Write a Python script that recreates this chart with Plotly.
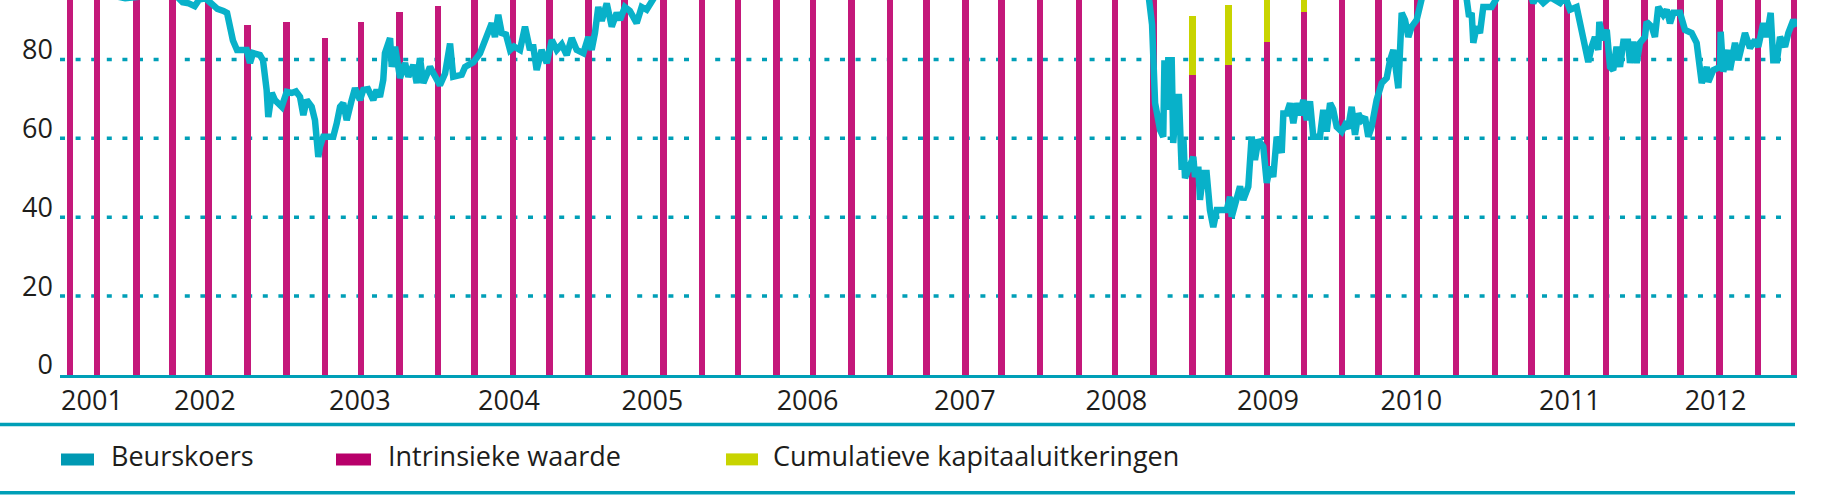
import plotly.graph_objects as go

# ---------------- data ----------------
# quarterly report dates (decimal years)
bar_dates = [2001.085, 2001.265, 2001.526, 2001.762, 2002.0, 2002.258, 2002.516, 2002.772,
             2003.011, 2003.265, 2003.52, 2003.762, 2004.018, 2004.259, 2004.516, 2004.754,
             2005.011, 2005.267, 2005.506, 2005.762, 2006.002, 2006.257, 2006.513, 2006.754,
             2007.011, 2007.251, 2007.504, 2007.761, 2008.002, 2008.256, 2008.512, 2008.751,
             2009.008, 2009.25, 2009.504, 2009.743, 2010.0, 2010.257, 2010.514, 2010.756,
             2010.992, 2011.249, 2011.506, 2011.742, 2012.0, 2012.256, 2012.498]

# Intrinsieke waarde
intrinsic = [126, 120, 112, 106, 101, 88.8, 89.5, 85.4,
             89.5, 92.0, 93.6, 99, 102, 104, 106, 109,
             113, 117, 122, 128, 133, 136, 134, 140,
             146, 150, 152, 148, 138, 118, 76.1, 78.6,
             84.5, 92.0, 100, 106, 112, 115, 113, 117,
             120, 122, 118, 110, 112, 115, 117]

# Cumulatieve kapitaaluitkeringen
distributions = [0, 0, 0, 0, 0, 0, 0, 0,
                 0, 0, 0, 0, 0, 0, 0, 0,
                 0, 0, 0, 0, 0, 0, 0, 0,
                 0, 0, 0, 0, 0, 0, 14.9, 15.2,
                 15.2, 15.2, 15.2, 15.2, 16.8, 16.8, 16.8, 16.8,
                 18.3, 18.3, 18.3, 18.3, 19.8, 19.8, 19.8]

# Beurskoers (share price)
price_dates = [
    2001.02, 2001.10, 2001.18, 2001.26, 2001.33, 2001.39, 2001.45, 2001.52, 2001.57, 2001.62,
    2001.68, 2001.74, 2001.80, 2001.83, 2001.87, 2001.91, 2001.94, 2001.98, 2002.02, 2002.06,
    2002.10, 2002.124, 2002.163, 2002.19, 2002.254, 2002.276, 2002.296, 2002.342, 2002.362, 2002.386,
    2002.397, 2002.42, 2002.441, 2002.486, 2002.519, 2002.552, 2002.58, 2002.607, 2002.629, 2002.651,
    2002.684, 2002.706, 2002.728, 2002.739, 2002.761, 2002.827, 2002.85, 2002.872, 2002.893, 2002.916,
    2002.949, 2002.971, 2003.004, 2003.026, 2003.057, 2003.092, 2003.114, 2003.136, 2003.158, 2003.169,
    2003.203, 2003.214, 2003.236, 2003.269, 2003.302, 2003.324, 2003.357, 2003.379, 2003.401, 2003.423,
    2003.467, 2003.533, 2003.567, 2003.6, 2003.621, 2003.677, 2003.699, 2003.754, 2003.798, 2003.843,
    2003.876, 2003.897, 2003.919, 2003.942, 2003.97, 2003.997, 2004.023, 2004.063, 2004.096, 2004.129,
    2004.149, 2004.173, 2004.206, 2004.24, 2004.273, 2004.306, 2004.339, 2004.372, 2004.405, 2004.438,
    2004.482, 2004.515, 2004.537, 2004.559, 2004.581, 2004.604, 2004.637, 2004.67, 2004.703, 2004.725,
    2004.757, 2004.79, 2004.835, 2004.868, 2004.901, 2004.945, 2004.98, 2005.05, 2005.15, 2005.25,
    2005.35, 2005.45, 2005.55, 2005.65, 2005.75, 2005.85, 2005.95, 2006.05, 2006.15, 2006.25,
    2006.35, 2006.45, 2006.55, 2006.65, 2006.75, 2006.85, 2006.95, 2007.05, 2007.15, 2007.25,
    2007.35, 2007.45, 2007.55, 2007.65, 2007.75, 2007.85, 2007.95, 2008.05, 2008.12, 2008.18,
    2008.21, 2008.221, 2008.246, 2008.266, 2008.299, 2008.32, 2008.328, 2008.342, 2008.353, 2008.376,
    2008.386, 2008.409, 2008.424, 2008.442, 2008.454, 2008.464, 2008.497, 2008.519, 2008.53, 2008.552,
    2008.563, 2008.585, 2008.607, 2008.629, 2008.651, 2008.674, 2008.74, 2008.762, 2008.773, 2008.806,
    2008.828, 2008.85, 2008.883, 2008.905, 2008.927, 2008.949, 2008.982, 2009.005, 2009.027, 2009.048,
    2009.071, 2009.104, 2009.115, 2009.137, 2009.159, 2009.181, 2009.203, 2009.225, 2009.247, 2009.27,
    2009.291, 2009.313, 2009.357, 2009.379, 2009.402, 2009.424, 2009.444, 2009.468, 2009.501, 2009.523,
    2009.543, 2009.567, 2009.589, 2009.611, 2009.633, 2009.655, 2009.677, 2009.699, 2009.732, 2009.766,
    2009.799, 2009.821, 2009.843, 2009.876, 2009.887, 2009.898, 2009.92, 2009.942, 2009.964, 2009.997,
    2010.03, 2010.06, 2010.12, 2010.18, 2010.24, 2010.29, 2010.328, 2010.344, 2010.361, 2010.372,
    2010.394, 2010.416, 2010.438, 2010.493, 2010.527, 2010.57, 2010.63, 2010.69, 2010.74, 2010.769,
    2010.794, 2010.835, 2010.88, 2010.946, 2010.979, 2011.012, 2011.056, 2011.078, 2011.111, 2011.133,
    2011.155, 2011.177, 2011.199, 2011.206, 2011.232, 2011.255, 2011.277, 2011.298, 2011.32, 2011.343,
    2011.365, 2011.396, 2011.409, 2011.431, 2011.453, 2011.475, 2011.508, 2011.519, 2011.553, 2011.574,
    2011.596, 2011.629, 2011.652, 2011.674, 2011.696, 2011.74, 2011.773, 2011.817, 2011.85, 2011.872,
    2011.884, 2011.917, 2011.927, 2011.96, 2012.005, 2012.009, 2012.026, 2012.06, 2012.071, 2012.104,
    2012.126, 2012.17, 2012.203, 2012.236, 2012.258, 2012.291, 2012.314, 2012.34, 2012.357, 2012.382,
    2012.402, 2012.435, 2012.457, 2012.49, 2012.512]

price_values = [
    112, 108, 104, 101, 98, 96, 95.5, 95.6, 96, 98,
    101, 98, 96, 94.5, 94.2, 93.5, 95.2, 95.5, 94.2, 92.8,
    92.3, 91.8, 84.8, 82.4, 82.4, 79.1, 81.6, 81.1, 79.8, 72.3,
    65.4, 71.5, 69.7, 68, 71.8, 71.5, 71.9, 70.5, 65.9, 69.7,
    68, 64.6, 55.3, 57.9, 60.4, 60.4, 63.8, 68, 68.9, 64.6,
    69.7, 72.7, 69.7, 72.3, 72.5, 69.7, 72.3, 70.5, 74.8, 81.6,
    85.4, 78.1, 83.2, 75.3, 79.1, 75.6, 78.6, 74, 80.3, 74,
    78.1, 73.5, 76.4, 84, 75.6, 76.1, 78.1, 79.3, 81.5, 85.7,
    89.2, 85.7, 91.3, 86.7, 86.3, 82.4, 83.3, 82.4, 88.3, 82.4,
    83.8, 77.3, 82.4, 79.1, 84.9, 82.4, 83.8, 81.1, 85.4, 82.4,
    81.6, 85.7, 82.4, 86.7, 93.3, 89.8, 94.2, 88.3, 91.8, 90,
    93.3, 92.3, 89.2, 93.3, 92.6, 95.3, 98.5, 101, 104, 103,
    107, 110, 108, 113, 118, 121, 126, 130, 134, 129,
    124, 122, 127, 131, 135, 139, 142, 146, 150, 153,
    155, 151, 146, 142, 138, 135, 128, 122, 118, 110,
    101, 96, 88.8, 68.9, 62.1, 60.4, 79.8, 67.2, 79.8, 79.8,
    58.8, 70.5, 70.5, 52, 59.6, 49.9, 52.8, 55.3, 50.2, 52.8,
    44.4, 51.2, 51.2, 41.8, 37.5, 41.8, 41.8, 45.2, 40.1, 44.4,
    47.8, 44.4, 47.8, 60.4, 54.5, 59.6, 57.9, 48.7, 52.8, 50.2,
    60.4, 56.3, 66.3, 66.3, 68.9, 63.8, 68.9, 65.9, 69.7, 64.6,
    69.4, 60.4, 60.4, 67.2, 61.7, 68.9, 67.4, 62.9, 61.7, 63.4,
    62.5, 68, 60.9, 66.3, 64.6, 65.4, 60.4, 62.9, 69.7, 74,
    75.3, 79.8, 82.4, 72.7, 84.2, 91.8, 90, 85.7, 88.3, 90,
    95.3, 100, 104, 106, 103, 100, 95.3, 90.8, 91.8, 84.2,
    88.3, 86.7, 93.3, 93.3, 95.5, 100, 103, 101, 98, 94.3,
    96, 94.3, 95.8, 94.3, 96, 92.6, 93.3, 89.2, 84.2, 79.3,
    83.2, 85.7, 82.4, 89.5, 84.9, 87.5, 78.1, 77.3, 83.2, 78.1,
    84.5, 84.5, 79.1, 84.5, 79.1, 84.2, 85.7, 89.5, 88.3, 85.7,
    93.3, 91.3, 92.6, 89.2, 91.8, 91.8, 87.5, 86.7, 84.2, 79.1,
    74, 78.1, 74.3, 77.3, 78.1, 87, 76.9, 82.4, 77.3, 84.2,
    79.8, 86.7, 82.9, 84.9, 83.2, 89.2, 85.7, 91.8, 79.8, 79.8,
    85.7, 83.2, 86.7, 90, 88.3]

assert len(price_dates) == len(price_values)
assert len(bar_dates) == len(intrinsic) == len(distributions)

year_labels = ["2001", "2002", "2003", "2004", "2005", "2006",
               "2007", "2008", "2009", "2010", "2011", "2012"]
year_label_pos = [2001.23, 2001.977, 2003.003, 2003.99, 2004.939, 2005.966,
                  2007.007, 2008.01, 2009.013, 2009.962, 2011.011, 2011.975]
y_ticks = [0, 20, 40, 60, 80]

series_names = ["Beurskoers", "Intrinsieke waarde", "Cumulatieve kapitaaluitkeringen"]

# ---------------- styling / geometry ----------------
W, H = 1835, 495
PL, PR, PT, PB = 60, 1797, 0, 375.5        # plot area in pixels
PX_PER_YEAR = 151.1
X_ANCHOR_PX, X_ANCHOR_YEAR = 208.3, 2002.0
PX_PER_UNIT = 3.95

def yr_at(px):
    return X_ANCHOR_YEAR + (px - X_ANCHOR_PX) / PX_PER_YEAR

def paper_x(px):
    return (px - PL) / (PR - PL)

def paper_y(py):
    return (PB - py) / (PB - PT)

C_LINE = "#08B1C9"
C_INTR = "#C4187A"
C_DIST = "#C8D400"
C_TEAL = "#009FB7"
C_TEXT = "#1d1d1b"
FONT = "Open Sans"
FS = 27

fig = go.Figure()
fig.add_trace(go.Bar(x=bar_dates, y=intrinsic, name=series_names[1],
                     marker=dict(color=C_INTR, line=dict(width=0)),
                     width=6.5 / PX_PER_YEAR))
fig.add_trace(go.Bar(x=bar_dates, y=distributions, name=series_names[2],
                     marker=dict(color=C_DIST, line=dict(width=0)),
                     width=6.5 / PX_PER_YEAR))
fig.add_trace(go.Scatter(x=price_dates, y=price_values, name=series_names[0],
                         mode="lines", line=dict(color=C_LINE, width=6.5)))

shapes = []
for v in y_ticks[1:]:
    shapes.append(dict(type="line", xref="paper", yref="y", x0=0, x1=paper_x(1785),
                       y0=v, y1=v, layer="below",
                       line=dict(color=C_TEAL, width=3.5, dash="5px,10.6px")))
# separators around the legend
for py in (425, 493.4):
    shapes.append(dict(type="line", xref="paper", yref="paper",
                       x0=paper_x(0), x1=paper_x(1795), y0=paper_y(py), y1=paper_y(py),
                       line=dict(color=C_TEAL, width=3.4)))
# legend swatches and labels
legend_items = [(61, 94, 109, "#0099B3"), (336, 371, 386, "#B8006A"), (726, 758, 771, C_DIST)]
annotations = []
for (x0, x1, tx, col), name in zip(legend_items, series_names):
    shapes.append(dict(type="rect", xref="paper", yref="paper",
                       x0=paper_x(x0), x1=paper_x(x1), y0=paper_y(466), y1=paper_y(454),
                       fillcolor=col, line=dict(width=0)))
    annotations.append(dict(xref="paper", yref="paper", x=paper_x(tx), y=paper_y(456),
                            xanchor="left", yanchor="middle", showarrow=False, text=name,
                            font=dict(family=FONT, size=FS, color=C_TEXT)))

fig.update_layout(
    width=W, height=H,
    margin=dict(l=PL, r=W - PR, t=PT, b=H - PB, pad=0),
    paper_bgcolor="white", plot_bgcolor="white",
    barmode="stack", bargap=0,
    showlegend=False,
    shapes=shapes, annotations=annotations,
    xaxis=dict(range=[yr_at(PL), yr_at(PR)], tickvals=year_label_pos, ticktext=year_labels,
               showgrid=False, zeroline=False, showline=True, linecolor=C_TEAL, linewidth=3,
               ticks="", ticklabelstandoff=0, automargin=False,
               tickfont=dict(family=FONT, size=FS, color=C_TEXT)),
    yaxis=dict(range=[0, (PB - PT) / PX_PER_UNIT], tickvals=y_ticks,
               showgrid=False, zeroline=False, showline=False,
               ticks="", ticklabelstandoff=6, ticklabelshift=-10, automargin=False,
               tickfont=dict(family=FONT, size=FS, color=C_TEXT)),
)

fig.write_html("out.html")
